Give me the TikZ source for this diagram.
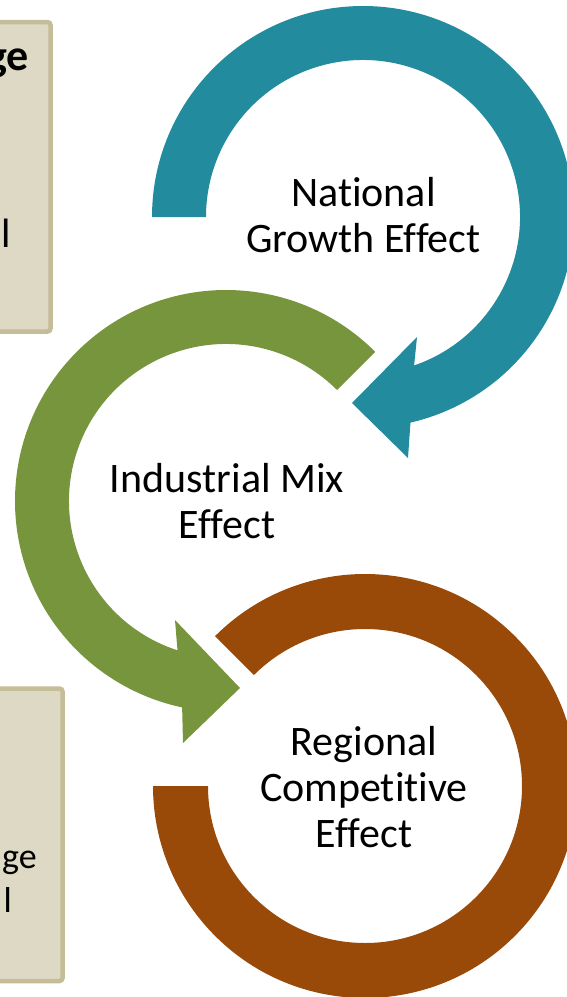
\documentclass[tikz,border=0pt]{standalone}
\usepackage{fontspec}
\setmainfont{Carlito}[Ligatures=NoCommon]
\definecolor{ringteal}{HTML}{228C9E}
\definecolor{ringgreen}{HTML}{77953D}
\definecolor{ringbrown}{HTML}{9A4A08}
\definecolor{boxfill}{HTML}{DDD9C4}
\definecolor{boxline}{HTML}{C4BD97}
\begin{document}
\begin{tikzpicture}[x=1pt,y=1pt,
  effect/.style={align=center,inner sep=0pt,font=\fontsize{42}{46}\selectfont},
  side/.style={fill=boxfill,draw=boxline,line width=4.5pt,rounded corners=3pt},
  sidetext/.style={anchor=base east,inner sep=0pt}]
\useasboundingbox (0,0) rectangle (567,-997);
% side boxes, cut off at the left
\draw[side] (-60,-22) rectangle (50.5,-331.5);
\draw[side] (-60,-688.5) rectangle (62.5,-981);
\node[sidetext,font=\fontsize{44}{50}\selectfont\bfseries] (toph) at (29,-70) {ge};
\node[sidetext,font=\fontsize{41}{46}\selectfont] (topl) at (11,-247) {l};
\node[sidetext,font=\fontsize{36}{42}\selectfont] (both) at (37,-868) {ge};
\node[sidetext,font=\fontsize{36}{42}\selectfont] (botl) at (12,-912) {l};
% ring centres
\coordinate (natc) at (363,-217);
\coordinate (mixc) at (226,-501);
\coordinate (regc) at (365,-786);
% national growth ring
\fill[ringteal,shift={(natc)}] (180:211pt) arc[start angle=180,end angle=-77,radius=211pt]
  -- (45,-241) -- (-11,-186) -- (54,-120)
  -- (-71:157pt) arc[start angle=-71,end angle=180,radius=157pt] -- cycle;
% industrial mix ring
\fill[ringgreen,shift={(mixc)}] (45:211pt) arc[start angle=45,end angle=258,radius=211pt]
  -- (-43,-242) -- (14,-187) -- (-51,-119)
  -- (252:157pt) arc[start angle=252,end angle=45,radius=157pt] -- cycle;
% regional competitive ring
\fill[ringbrown,shift={(regc)}] (135:212pt) arc[start angle=135,end angle=-180,radius=212pt]
  -- (-180:157pt) arc[start angle=-180,end angle=135,radius=157pt] -- cycle;
% labels
\node[effect] (natl) at (363.5,-215.5) {National\\Growth Effect};
\node[effect] (mixl) at (227,-501) {Industrial Mix\\Effect};
\node[effect] (regl) at (364,-787) {Regional\\Competitive\\Effect};
\end{tikzpicture}
\end{document}
